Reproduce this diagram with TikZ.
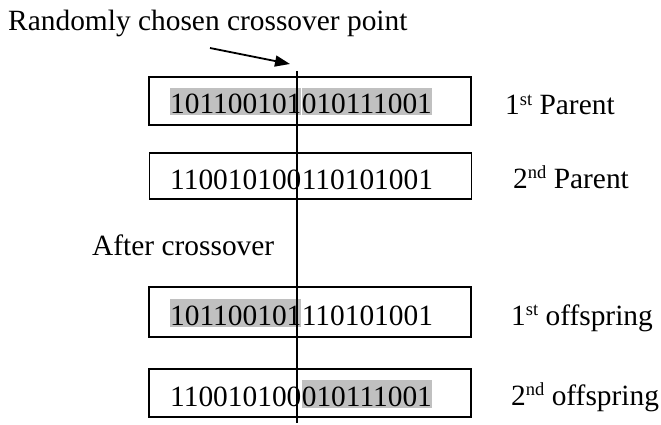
\documentclass[tikz,border=0pt]{standalone}
\usepackage{fontspec}
\setmainfont{Liberation Serif}
\usepackage{tikz}
\usepackage{xcolor}
\usetikzlibrary{arrows.meta,positioning}
\definecolor{markGray}{RGB}{192,192,192}
\newcommand{\geneFont}{\fontsize{29.4}{35}\selectfont}
\newcommand{\ordSup}[1]{\raisebox{0.33em}{\fontsize{18.5}{20}\selectfont #1}}

\begin{document}
\begin{tikzpicture}[x=1pt,y=-1pt,font=\geneFont,
    chromBox/.style={draw, line width=1.3pt, inner sep=0, minimum width=322pt},
    bits/.style={inner sep=0, anchor=base west, text height=26pt, text depth=1.5pt},
    marked/.style={bits, fill=markGray},
    tag/.style={inner sep=0, anchor=base west},
    pointer/.style={line width=1.8pt, -{Triangle[length=15pt,width=11pt]}},
    cutLine/.style={line width=1.5pt}]
    \useasboundingbox (0,0) rectangle (661,425);

    % chromosome boxes
    \node[chromBox, minimum height=48pt] (parentA) at (310,101) {};
    \node[chromBox, minimum height=46pt] (parentB) at (310.5,176) {};
    \node[chromBox, minimum height=50pt] (childA) at (310,312) {};
    \node[chromBox, minimum height=48pt] (childB) at (310,393) {};

    % bit strings
    \node[marked] (pAhead) at (170,114) {101100101};
    \node[marked] (pAtail) at (pAhead.base east) {010111001};
    \node[bits] (pBhead) at (170,189) {110010100};
    \node[bits] (pBtail) at (pBhead.base east) {110101001};
    \node[marked] (cAhead) at (170,325) {101100101};
    \node[bits] (cAtail) at (cAhead.base east) {110101001};
    \node[bits] (cBhead) at (170,406) {110010100};
    \node[marked] (cBtail) at (cBhead.base east) {010111001};

    % labels
    \node[tag] (title) at (8,31) {Randomly chosen crossover point};
    \node[tag] (after) at (92,255) {After crossover};
    \node[tag] (tagPA) at (505,115) {1\ordSup{st} Parent};
    \node[tag] (tagPB) at (513,188) {2\ordSup{nd} Parent};
    \node[tag] (tagCA) at (511,325) {1\ordSup{st} offspring};
    \node[tag] (tagCB) at (511,405) {2\ordSup{nd} offspring};

    % crossover point
    \coordinate (arrowTail) at (210,48);
    \coordinate (arrowTip) at (290,64);
    \draw[pointer] (arrowTail) -- (arrowTip);
    \coordinate (cutTop) at (297,71);
    \coordinate (cutBottom) at (297,423);
    \draw[cutLine] (cutTop) -- (cutBottom);
\end{tikzpicture}
\end{document}
